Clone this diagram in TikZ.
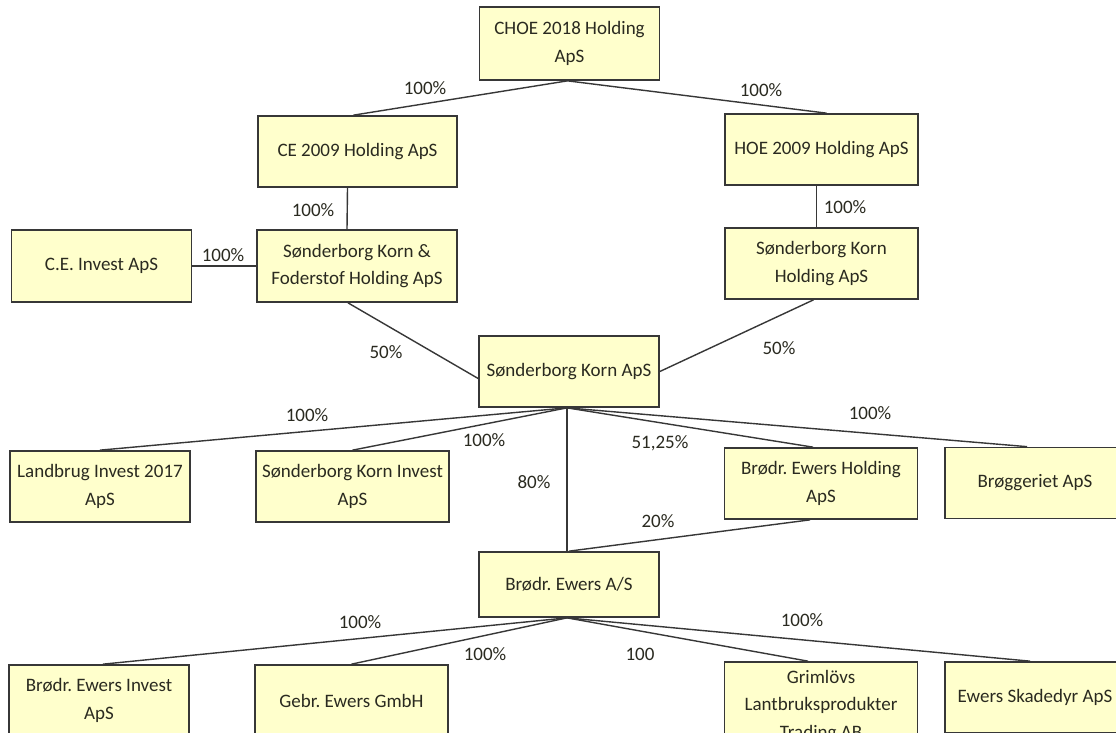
\documentclass[tikz,border=0pt]{standalone}
\usepackage{fontspec}
\setmainfont{Carlito}
\usetikzlibrary{positioning}
\definecolor{boxfill}{RGB}{255,255,204}
\definecolor{boxline}{RGB}{55,55,55}
\definecolor{inktext}{RGB}{42,42,32}
\frenchspacing

\begin{document}
\begin{tikzpicture}[x=1pt,y=-1pt,font=\fontsize{19}{27.5}\selectfont,
    firm/.style={draw=boxline,fill=boxfill,line width=1.7pt,minimum width=180pt,
        minimum height=71pt,align=center,text=inktext,inner sep=3pt},
    wide/.style={minimum width=193pt},
    pct/.style={text=inktext,inner sep=0pt},
    own/.style={draw=boxline,line width=1.4pt}]
\useasboundingbox (0,0) rectangle (1116,733);
\fill[white] (0,0) rectangle (1116,733);

% owners on top
\node[firm,minimum height=73pt] (choe) at (569.5,43.5) {CHOE 2018 Holding\\ApS};
\node[firm,minimum width=199pt] (ce) at (357.5,151.5) {CE 2009 Holding ApS};
\node[firm,wide] (hoe) at (821.5,149.5) {HOE 2009 Holding ApS};
\node[firm,minimum height=72pt] (ceinv) at (101.5,266) {C.E. Invest ApS};
\node[firm,minimum width=200pt,minimum height=72pt] (skf) at (357,266) {Sønderborg Korn \&\\Foderstof Holding ApS};
\node[firm,wide] (skh) at (821.5,263.5) {Sønderborg Korn\\Holding ApS};
\node[firm] (sk) at (569,371.5) {Sønderborg Korn ApS};

% second row
\node[firm] (landbrug) at (100,486.5) {Landbrug Invest 2017\\ApS};
\node[firm,wide] (skinv) at (352.5,486.5) {Sønderborg Korn Invest\\ApS};
\node[firm,wide] (beh) at (821,483.5) {Brødr. Ewers Holding\\ApS};
\node[firm] (brog) at (1035,483) {Brøggeriet ApS};
\node[firm,minimum height=65pt] (bea) at (569,584.5) {Brødr. Ewers A/S};

% bottom row
\node[firm] (beinv) at (99,700.5) {Brødr. Ewers Invest\\ApS};
\node[firm,wide] (gebr) at (351.5,700.5) {Gebr. Ewers GmbH};
\node[firm,wide,minimum height=88pt] (grim) at (821,706) {Grimlövs\\Lantbruksprodukter\\Trading AB};
\node[firm] (skad) at (1035,697.5) {Ewers Skadedyr ApS};

\coordinate (skfoot) at ([xshift=-2pt]sk.south);
\coordinate (beafoot) at ([xshift=-2pt]bea.south);

\path ([xshift=-2pt]choe.south) edge[own] ([xshift=-4pt]ce.north);
\path ([xshift=-2pt]choe.south) edge[own] ([xshift=5pt]hoe.north);
\path ([xshift=-10pt]ce.south) edge[own] ([xshift=-10pt]skf.north);
\path ([xshift=-5pt]hoe.south) edge[own] ([xshift=-5pt]skh.north);
\path (ceinv.east) edge[own] (skf.west);
\path ([xshift=-9pt]skf.south) edge[own] ([yshift=-7pt]sk.west);
\path ([xshift=-8pt]skh.south) edge[own] (sk.east);

\path (skfoot) edge[own] (landbrug.north);
\path (skfoot) edge[own] (skinv.north);
\path (skfoot) edge[own] ([xshift=-8pt]beh.north);
\path (skfoot) edge[own] ([xshift=-8pt]brog.north);
\path (skfoot) edge[own] (skfoot |- bea.north);
\path ([xshift=-11pt]beh.south) edge[own] (bea.north);

\path (beafoot) edge[own] ([xshift=4pt]beinv.north);
\path (beafoot) edge[own] (gebr.north);
\path (beafoot) edge[own] ([xshift=-13pt]grim.north);
\path (beafoot) edge[own] ([xshift=-5pt]skad.north);

% shares
\node[pct] (p1) at (425,88) {100\%};
\node[pct] (p2) at (761,90) {100\%};
\node[pct] (p3) at (313,210) {100\%};
\node[pct] (p4) at (845,207) {100\%};
\node[pct] (p5) at (223,255) {100\%};
\node[pct] (p6) at (386,352) {50\%};
\node[pct] (p7) at (779,348) {50\%};
\node[pct] (p8) at (307,415) {100\%};
\node[pct] (p9) at (484,440) {100\%};
\node[pct] (p10) at (534,482) {80\%};
\node[pct] (p11) at (660,443) {51,25\%};
\node[pct] (p12) at (870,413) {100\%};
\node[pct] (p13) at (658,521) {20\%};
\node[pct] (p14) at (360,622) {100\%};
\node[pct] (p15) at (485,654) {100\%};
\node[pct] (p16) at (640,654) {100};
\node[pct] (p17) at (802,620) {100\%};
\end{tikzpicture}
\end{document}
